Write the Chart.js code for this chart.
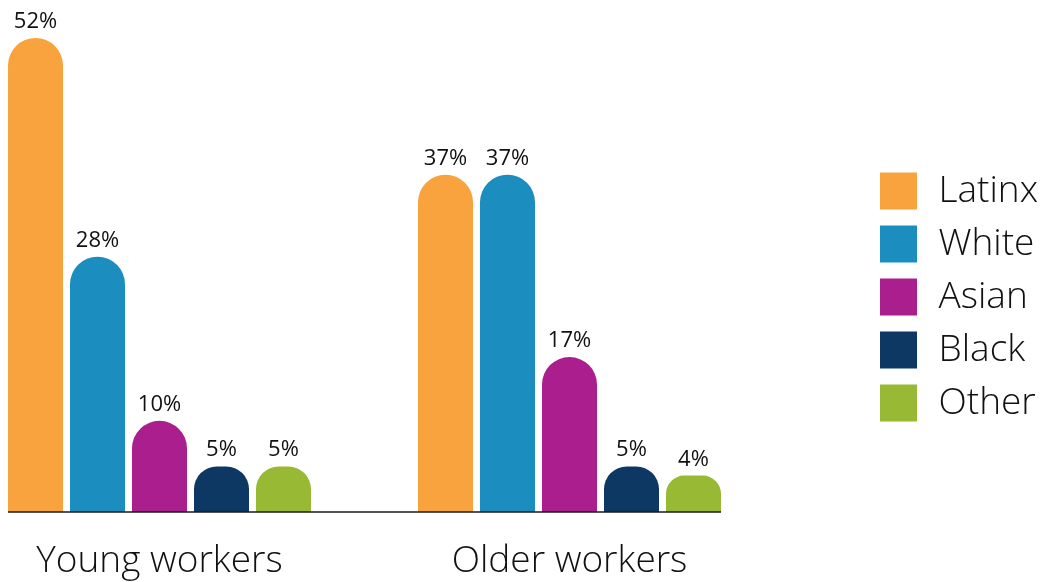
<!DOCTYPE html>
<html>
<head>
<meta charset="utf-8">
<script src="https://cdn.jsdelivr.net/npm/chart.js@4/dist/chart.umd.min.js"></script>
<style>
  html, body { margin: 0; padding: 0; background: #ffffff; }
  #wrap { width: 1047px; height: 582px; position: relative; }
</style>
</head>
<body>
<div id="wrap"><canvas id="c" width="1047" height="582"></canvas></div>
<script>
const categories = ["Young workers", "Older workers"];
const seriesNames = ["Latinx", "White", "Asian", "Black", "Other"];
const latinx = [52, 37];
const white = [28, 37];
const asian = [10, 17];
const black = [5, 5];
const other = [5, 4];
const seriesValues = [latinx, white, asian, black, other];
const seriesColors = ["#F9A33E", "#1B8DBF", "#AB1E8E", "#0D3863", "#98B934"];

const FONT = "'Open Sans', Lato, 'Noto Sans', sans-serif";
const X_MIN = -151.5 / 410;
const X_MAX = 1 + 151.5 / 410;

const datasets = seriesNames.map((name, s) => ({
  label: name,
  data: seriesValues[s].map((v, i) => ({ x: i, y: v })),
  backgroundColor: seriesColors[s],
  borderWidth: 0,
  borderRadius: 28,
  borderSkipped: 'bottom',
  categoryPercentage: 310 / 410,
  barPercentage: 55 / 62
}));

const valueLabels = {
  id: 'valueLabels',
  afterDatasetsDraw(chart) {
    const ctx = chart.ctx;
    ctx.save();
    ctx.font = "500 22px " + FONT;
    ctx.fillStyle = "#111111";
    ctx.textAlign = "center";
    ctx.textBaseline = "alphabetic";
    chart.data.datasets.forEach((ds, di) => {
      const meta = chart.getDatasetMeta(di);
      meta.data.forEach((bar, i) => {
        ctx.fillText(seriesValues[di][i] + "%", bar.x, bar.y - 10);
      });
    });
    ctx.restore();
  }
};

const baseline = {
  id: 'baseline',
  afterDatasetsDraw(chart) {
    const xs = chart.scales.x, ys = chart.scales.y;
    const ctx = chart.ctx;
    const y = ys.getPixelForValue(0);
    ctx.save();
    ctx.strokeStyle = "#1a1a1a";
    ctx.lineWidth = 1.6;
    ctx.beginPath();
    ctx.moveTo(xs.getPixelForValue(X_MIN), y);
    ctx.lineTo(xs.getPixelForValue(X_MAX), y);
    ctx.stroke();
    ctx.restore();
  }
};

const legendWidth = {
  id: 'legendWidth',
  afterInit(chart) {
    const lg = chart.legend;
    if (!lg) return;
    const fit = lg.fit;
    lg.fit = function () {
      fit.call(this);
      this.width = 180;
    };
  }
};

new Chart(document.getElementById('c'), {
  type: 'bar',
  data: { datasets },
  plugins: [valueLabels, baseline, legendWidth],
  options: {
    responsive: false,
    animation: false,
    devicePixelRatio: 1,
    layout: { padding: { left: 8, top: 12, right: 0, bottom: 0 } },
    plugins: {
      tooltip: { enabled: false },
      legend: {
        position: 'right',
        labels: {
          boxWidth: 43,
          boxHeight: 43,
          padding: 10,
          color: "#111111",
          font: { family: FONT, size: 37, weight: '300' },
          generateLabels(chart) {
            const items = Chart.defaults.plugins.legend.labels.generateLabels(chart);
            return items.map(it => Object.assign(it, { lineWidth: 6, strokeStyle: '#ffffff' }));
          }
        }
      }
    },
    scales: {
      x: {
        type: 'linear',
        offset: false,
        bounds: 'data',
        afterBuildTicks(scale) {
          scale.ticks = categories.map((c, i) => ({ value: i }));
          scale.min = X_MIN;
          scale.max = X_MIN + scale.width / 410;
        },
        afterFit(scale) {
          scale.height = 70;
          scale.paddingLeft = 0;
          scale.paddingRight = 0;
        },
        grid: { display: false, drawTicks: false },
        border: { display: false },
        ticks: {
          autoSkip: false,
          maxRotation: 0,
          padding: 27,
          color: "#111111",
          font: { family: FONT, size: 37, weight: '300' },
          callback: (v) => categories[v]
        }
      },
      y: {
        display: false,
        min: 0,
        max: 500 / 9.115
      }
    }
  }
});
</script>
</body>
</html>
